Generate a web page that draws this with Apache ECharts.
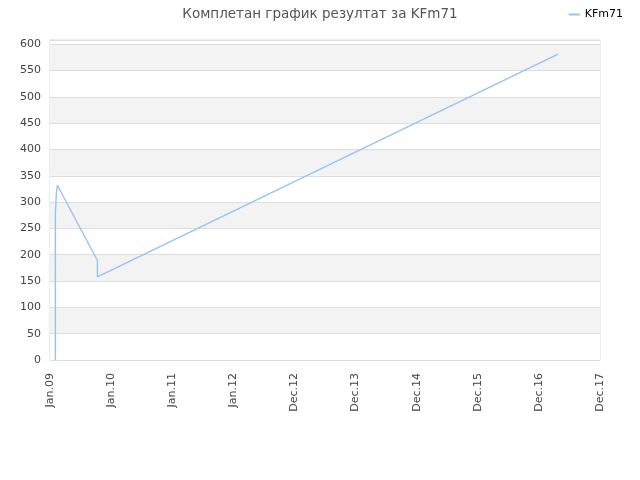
<!DOCTYPE html>
<html>
<head>
<meta charset="utf-8">
<script src="https://cdn.jsdelivr.net/npm/echarts@6/dist/echarts.min.js"></script>
<style>
  html, body { margin: 0; padding: 0; background: #fff; }
  #chart { width: 640px; height: 480px; }
</style>
</head>
<body>
<div id="chart"></div>
<script>
'use strict';

// tick labels of the x axis, one per unit step
var xLabels = ['Jan.09', 'Jan.10', 'Jan.11', 'Jan.12', 'Dec.12', 'Dec.13', 'Dec.14', 'Dec.15', 'Dec.16', 'Dec.17'];

// result points: position along the x axis (in tick steps) and value
var pointX = [0.088, 0.088, 0.088, 0.105, 0.105, 0.121, 0.776, 0.776, 8.314];
var pointY = [0, 30, 278, 275, 318, 332, 189, 158, 581];

var seriesName = 'KFm71';
var titleText = 'Комплетан график резултат за KFm71';

(function (echarts) {
    var chart = echarts.init(document.getElementById('chart'), null, {renderer: 'canvas'});

    var data = pointX.map(function (x, i) {
        return [x, pointY[i]];
    });

    chart.setOption({
        animation: false,
        textStyle: {fontFamily: 'DejaVu Sans'},
        title: {
            text: titleText,
            left: 'center',
            top: 2,
            textStyle: {
                fontFamily: 'DejaVu Sans',
                fontSize: 13.5,
                fontWeight: 'normal',
                color: '#555'
            }
        },
        legend: {
            right: 12,
            top: 4,
            itemWidth: 11,
            itemHeight: 2,
            itemGap: 8,
            icon: 'rect',
            textStyle: {fontSize: 11, color: '#000'},
            data: [seriesName]
        },
        grid: {
            left: 50,
            right: 40,
            top: 40,
            bottom: 120,
            show: true,
            borderColor: '#ddd',
            borderWidth: 1
        },
        xAxis: {
            type: 'value',
            min: 0,
            max: 9,
            interval: 1,
            axisLine: {show: false},
            axisTick: {show: false},
            splitLine: {show: false},
            axisLabel: {
                rotate: 90,
                fontSize: 11,
                color: '#444',
                margin: 13,
                formatter: function (v) {
                    return xLabels[Math.round(v)] || '';
                }
            }
        },
        yAxis: {
            type: 'value',
            min: 0,
            max: 608,
            interval: 50,
            axisLine: {show: false},
            axisTick: {show: false},
            axisLabel: {
                fontSize: 11,
                color: '#444',
                margin: 9,
                formatter: function (v) {
                    return v % 50 === 0 ? String(v) : '';
                }
            },
            splitLine: {lineStyle: {color: '#ddd', width: 1}},
            splitArea: {
                show: true,
                areaStyle: {color: ['#fff', '#f3f3f3']}
            }
        },
        series: [{
            name: seriesName,
            type: 'line',
            showSymbol: false,
            symbol: 'none',
            lineStyle: {color: '#92c5f5', width: 1.4},
            itemStyle: {color: '#92c5f5'},
            data: data
        }]
    });
})(echarts);
</script>
</body>
</html>
